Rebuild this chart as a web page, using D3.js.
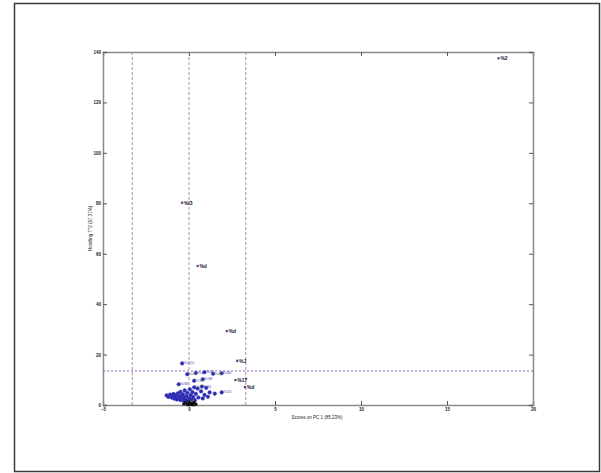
<!DOCTYPE html>
<html>
<head>
<meta charset="utf-8">
<script src="https://cdn.jsdelivr.net/npm/d3@7"></script>
<style>
  body { margin: 0; background: #fff; }
  svg { display: block; font-family: "Liberation Sans", Arial, sans-serif; }
</style>
</head>
<body>
<svg id="plot" width="601" height="473"></svg>
<script>
// x and y axis ticks
const xTicks = [-5, 0, 5, 10, 15, 20];
const yTicks = [0, 20, 40, 60, 80, 100, 120, 140];

// confidence limits drawn as dashed lines
const xLimits = [-3.3, 0, 3.3];
const yLimit = 13.5;

// samples far from the origin
const outlierX = [18.0, -0.4, 0.5, 2.2, 2.8, 2.7, 3.25];
const outlierY = [137.5, 80.2, 55.1, 29.3, 17.5, 9.9, 7.1];
const outlierLabel = ["%2", "%/3", "%d", "%d", "%J", "%17", "%d"];

// the dense cluster near the origin
const clusterX = [-1.3, -1.2, -1.1, -1.0, -0.95, -0.9, -0.85, -0.8, -0.75, -0.7, -0.65, -0.6, -0.55, -0.5, -0.5,
  -0.45, -0.4, -0.35, -0.3, -0.3, -0.25, -0.2, -0.15, -0.1, -0.05, 0.0, 0.05, 0.1, 0.15, 0.2, 0.25, 0.3, 0.35,
  0.4, 0.5, 0.55, 0.75, 0.7, 0.8, 0.9, 1.0, 1.1, 1.2, 1.5, 1.9,
  -0.1, 0.4, 0.9, 1.4, 1.9, -0.4, 0.3, -0.6, 0.8];
const clusterY = [3.8, 3.2, 4.1, 2.9, 3.6, 4.4, 2.5, 3.1, 3.9, 2.2, 4.6, 3.4, 2.8, 1.9, 5.2,
  3.7, 2.4, 4.2, 1.6, 3.0, 5.8, 2.1, 3.5, 4.8, 1.8, 2.7, 6.2, 3.9, 2.3, 5.1, 3.2, 7.0, 2.0,
  4.4, 6.5, 3.0, 7.3, 5.4, 2.6, 4.0, 6.8, 3.3, 5.0, 4.5, 5.0,
  12.2, 12.7, 13.0, 12.4, 12.6, 16.5, 9.6, 8.2, 10.2];
const clusterLabel = ["", "", "", "", "", "", "", "", "", "", "", "", "", "", "%9",
  "", "", "", "", "", "", "", "", "", "", "", "", "", "", "", "", "%27", "",
  "", "", "", "%31", "", "", "", "", "", "", "", "%13",
  "%40", "%42", "%43", "%45", "%46", "%5(1)", "%33", "%36", "%38"];

// samples sitting on the baseline
const baseX = [-0.3, -0.2, -0.1, 0.0, 0.05, 0.1, 0.15, 0.2, 0.3, 0.4, -0.05, 0.25];
const baseY = [0.4, 0.9, 0.3, 1.2, 0.5, 0.2, 0.8, 0.4, 1.0, 0.3, 0.1, 0.1];

const svg = d3.select("#plot");

// figure frame
svg.append("rect")
  .attr("x", 14.5).attr("y", 3.5)
  .attr("width", 585).attr("height", 468)
  .attr("fill", "none")
  .attr("stroke", "#3a3a3a")
  .attr("stroke-width", 1.5);

const margin = { left: 103, right: 533, top: 52, bottom: 405 };

const x = d3.scaleLinear().domain([-5, 20]).range([margin.left, margin.right]);
const y = d3.scaleLinear().domain([0, 140]).range([margin.bottom, margin.top]);

const axisColor = "#8a8a8a";

// inward ticks on all four sides
const axisBottomG = svg.append("g").attr("transform", `translate(0,${margin.bottom})`)
  .call(d3.axisBottom(x).tickValues(xTicks).tickSize(-4).tickPadding(3).tickFormat(d3.format("d")));
const axisTopG = svg.append("g").attr("transform", `translate(0,${margin.top})`)
  .call(d3.axisTop(x).tickValues(xTicks).tickSize(-4).tickFormat(""));
const axisLeftG = svg.append("g").attr("transform", `translate(${margin.left},0)`)
  .call(d3.axisLeft(y).tickValues(yTicks).tickSize(-4).tickPadding(2).tickFormat(d3.format("d")));
const axisRightG = svg.append("g").attr("transform", `translate(${margin.right},0)`)
  .call(d3.axisRight(y).tickValues(yTicks).tickSize(-4).tickFormat(""));

[axisBottomG, axisTopG, axisLeftG, axisRightG].forEach(g => {
  g.select(".domain").attr("stroke", axisColor).attr("stroke-width", 1.5);
  g.selectAll(".tick line").attr("stroke", "#555");
  g.selectAll(".tick text")
    .attr("fill", "#222")
    .style("font-size", "4.5px")
    .style("font-weight", "bold");
});

// dashed limit lines
svg.selectAll(".xlim")
  .data(xLimits)
  .enter().append("line")
  .attr("class", "xlim")
  .attr("x1", d => x(d)).attr("x2", d => x(d))
  .attr("y1", margin.top).attr("y2", margin.bottom)
  .attr("stroke", "#a88ab8")
  .attr("stroke-width", 1)
  .attr("stroke-dasharray", "3,2");

svg.append("line")
  .attr("x1", margin.left).attr("x2", margin.right)
  .attr("y1", y(yLimit)).attr("y2", y(yLimit))
  .attr("stroke", "#9060c8")
  .attr("stroke-width", 1)
  .attr("stroke-dasharray", "2,2");

// cluster markers + labels
const cluster = clusterX.map((d, i) => ({ x: d, y: clusterY[i], label: clusterLabel[i] }));

svg.selectAll(".cl")
  .data(cluster)
  .enter().append("circle")
  .attr("class", "cl")
  .attr("cx", d => x(d.x))
  .attr("cy", d => y(d.y))
  .attr("r", 1.8)
  .attr("fill", "#2b2ba6")
  .attr("stroke", "#3a3ad0")
  .attr("stroke-width", 0.5);

svg.selectAll(".cl-label")
  .data(cluster.filter(d => d.label))
  .enter().append("text")
  .attr("class", "cl-label")
  .attr("x", d => x(d.x) + 1.5)
  .attr("y", d => y(d.y) + 1)
  .attr("fill", (d, i) => i % 3 === 1 ? "#4f7a4f" : "#4a4aa8")
  .style("font-size", "4px")
  .text(d => d.label);

// baseline markers
const base = baseX.map((d, i) => ({ x: d, y: baseY[i] }));
svg.selectAll(".base")
  .data(base)
  .enter().append("rect")
  .attr("class", "base")
  .attr("x", d => x(d.x) - 1.5)
  .attr("y", d => y(d.y) - 1.5)
  .attr("width", 3)
  .attr("height", 3)
  .attr("fill", "#111");

// outliers
const outliers = outlierX.map((d, i) => ({ x: d, y: outlierY[i], label: outlierLabel[i] }));
svg.selectAll(".out")
  .data(outliers)
  .enter().append("circle")
  .attr("class", "out")
  .attr("cx", d => x(d.x))
  .attr("cy", d => y(d.y))
  .attr("r", 1.3)
  .attr("fill", "#5a4a9a");

svg.selectAll(".out-label")
  .data(outliers)
  .enter().append("text")
  .attr("class", "out-label")
  .attr("x", d => x(d.x) + 1.8)
  .attr("y", d => y(d.y) + 2)
  .attr("fill", "#15152a")
  .style("font-size", "5px")
  .style("font-weight", "bold")
  .text(d => d.label);

// axis titles
svg.append("text")
  .attr("x", 317)
  .attr("y", margin.bottom + 14)
  .attr("text-anchor", "middle")
  .attr("fill", "#222")
  .style("font-size", "4.5px")
  .text("Scores on PC 1 (85.23%)");

svg.append("text")
  .attr("transform", `translate(92,${(margin.top + margin.bottom) / 2}) rotate(-90)`)
  .attr("text-anchor", "middle")
  .attr("fill", "#222")
  .style("font-size", "4.5px")
  .text("Hotelling T^2 (97.37%)");
</script>
</body>
</html>
